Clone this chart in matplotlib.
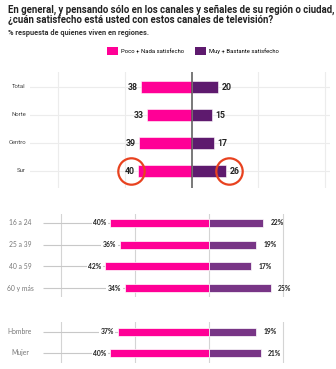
import matplotlib
matplotlib.use("Agg")
import matplotlib.pyplot as plt
from matplotlib.patches import Patch
import numpy as np

W, H = 336, 369

PINK = "#ff0096"
PURPLE_TOP = "#5e1a6e"
PURPLE_LOW = "#783586"
RED = "#e8421f"

# regions
regions = ["Total", "Norte", "Centro", "Sur"]
region_low = [38, 33, 39, 40]
region_high = [20, 15, 17, 26]

# age groups
ages = ["16 a 24", "25 a 39", "40 a 59", "60 y más"]
age_low = [40, 36, 42, 34]
age_high = [22, 19, 17, 25]

# gender
genders = ["Hombre", "Mujer"]
gender_low = [37, 40]
gender_high = [19, 21]

legend_labels = ["Poco + Nada satisfecho", "Muy + Bastante satisfecho"]


def px_axes(fig, x0, y0, x1, y1):
    """Axes placed by pixel box (top-left origin)."""
    return fig.add_axes([x0 / W, 1 - y1 / H, (x1 - x0) / W, (y1 - y0) / H])


def clean(ax):
    for s in ax.spines.values():
        s.set_visible(False)
    ax.set_xticks([])
    ax.set_yticks([])
    ax.patch.set_alpha(0)


fig = plt.figure(figsize=(W / 100, H / 100), dpi=100)

fig.text(8 / W, 1 - 10 / H,
         "En general, y pensando sólo en los canales y señales de su región o ciudad,",
         fontsize=6.9, fontweight="bold", family="Roboto", color="#222222", va="center")
fig.text(8 / W, 1 - 20 / H,
         "¿cuán satisfecho está usted con estos canales de televisión?",
         fontsize=6.9, fontweight="bold", family="Roboto", color="#222222", va="center")
fig.text(8 / W, 1 - 33 / H, "% respuesta de quienes viven en regiones.",
         fontsize=5.3, fontweight="bold", family="Roboto", color="#333333", va="center")

handles = [Patch(facecolor=PINK), Patch(facecolor=PURPLE_TOP)]
fig.legend(handles, legend_labels, ncol=2, frameon=False, loc="center",
           bbox_to_anchor=(193 / W, 1 - 51 / H),
           handlelength=1.9, handleheight=1.6, columnspacing=1.8, handletextpad=0.6,
           prop={"family": "Roboto", "size": 4.2})

# --- regions panel ---
ax1 = px_axes(fig, 30, 72, 330, 188)
clean(ax1)
sc1 = 267 / 200
ax1.set_xlim(-100 - 28 / sc1, 100 + 5 / sc1)
y1 = np.arange(len(regions))
ax1.set_ylim(len(regions) - 1 + 17 / 28, -15 / 28)
for gx in [-100, -50, 50, 100]:
    ax1.axvline(gx, color="#ececec", lw=0.8, zorder=0)
for yy in y1:
    ax1.axhline(yy, color="#ececec", lw=0.8, zorder=0)
lo = np.array(region_low)
hi = np.array(region_high)
ax1.barh(y1, -lo, height=0.4, color=PINK, edgecolor="white", lw=0.4, zorder=2)
ax1.barh(y1, hi, height=0.4, color=PURPLE_TOP, edgecolor="white", lw=0.4, zorder=2)
ax1.axvline(0, color="#555555", lw=1.1, zorder=3)
for yy, a, b, name in zip(y1, lo, hi, regions):
    ax1.text(-a - 2.5, yy, f"{a}", ha="right", va="center", fontsize=6.3,
             fontweight="bold", family="Roboto", color="#222222")
    ax1.text(b + 2.5, yy, f"{b}", ha="left", va="center", fontsize=6.3,
             fontweight="bold", family="Roboto", color="#222222")
    ax1.text(-100 - 32 / sc1, yy, name, ha="right", va="center", fontsize=4.3,
             family="Roboto", color="#444444", clip_on=False)
# highlight the Sur row
sur = regions.index("Sur")
ax1.plot([-lo[sur] - 5.5], [sur], "o", ms=19, mfc="none", mec=RED, mew=1.6,
         zorder=4, clip_on=False)
ax1.plot([hi[sur] + 2.2], [sur], "o", ms=19, mfc="none", mec=RED, mew=1.6,
         zorder=4, clip_on=False)


def lower_panel(ax, cats, low, high, y_top, pitch):
    sc = 74 / 30
    ax.set_xlim(-(209 - 43) / sc, (300 - 209) / sc)
    n = len(cats)
    yy = np.arange(n)
    ax.set_ylim(n - 1 + (y_top[1]) / pitch, -y_top[0] / pitch)
    for gx in [-60, -30, 0, 30]:
        ax.axvline(gx, color="#d4d4d4", lw=0.8, zorder=0)
    low = np.array(low)
    high = np.array(high)
    ax.barh(yy, -low, height=0.38, color=PINK, edgecolor="white", lw=0.5, zorder=2)
    ax.barh(yy, high, height=0.38, color=PURPLE_LOW, edgecolor="white", lw=0.5, zorder=2)
    for y, a, b, name in zip(yy, low, high, cats):
        t = ax.text(-a - 1.6, y, f"{a}%", ha="right", va="center", fontsize=4.9,
                    fontweight="bold", family="Lato", color="#222222", zorder=3)
        t.set_bbox(dict(facecolor="white", edgecolor="none", pad=1.2))
        ax.hlines(y, ax.get_xlim()[0], -a, color="#c8c8c8", lw=0.8, zorder=1)
        ax.text(b + 3.0, y, f"{b}%", ha="left", va="center", fontsize=4.9,
                fontweight="bold", family="Lato", color="#222222", zorder=3)
        ax.text(-(209 - 20) / sc, y, name, ha="center", va="center", fontsize=4.9,
                family="Lato", color="#777777", clip_on=False)


ax2 = px_axes(fig, 43, 214, 300, 297)
clean(ax2)
lower_panel(ax2, ages, age_low, age_high, (9, 9), 21.9)

ax3 = px_axes(fig, 43, 322, 300, 363)
clean(ax3)
lower_panel(ax3, genders, gender_low, gender_high, (10, 10), 21)

fig.savefig("out.png", dpi=100)
